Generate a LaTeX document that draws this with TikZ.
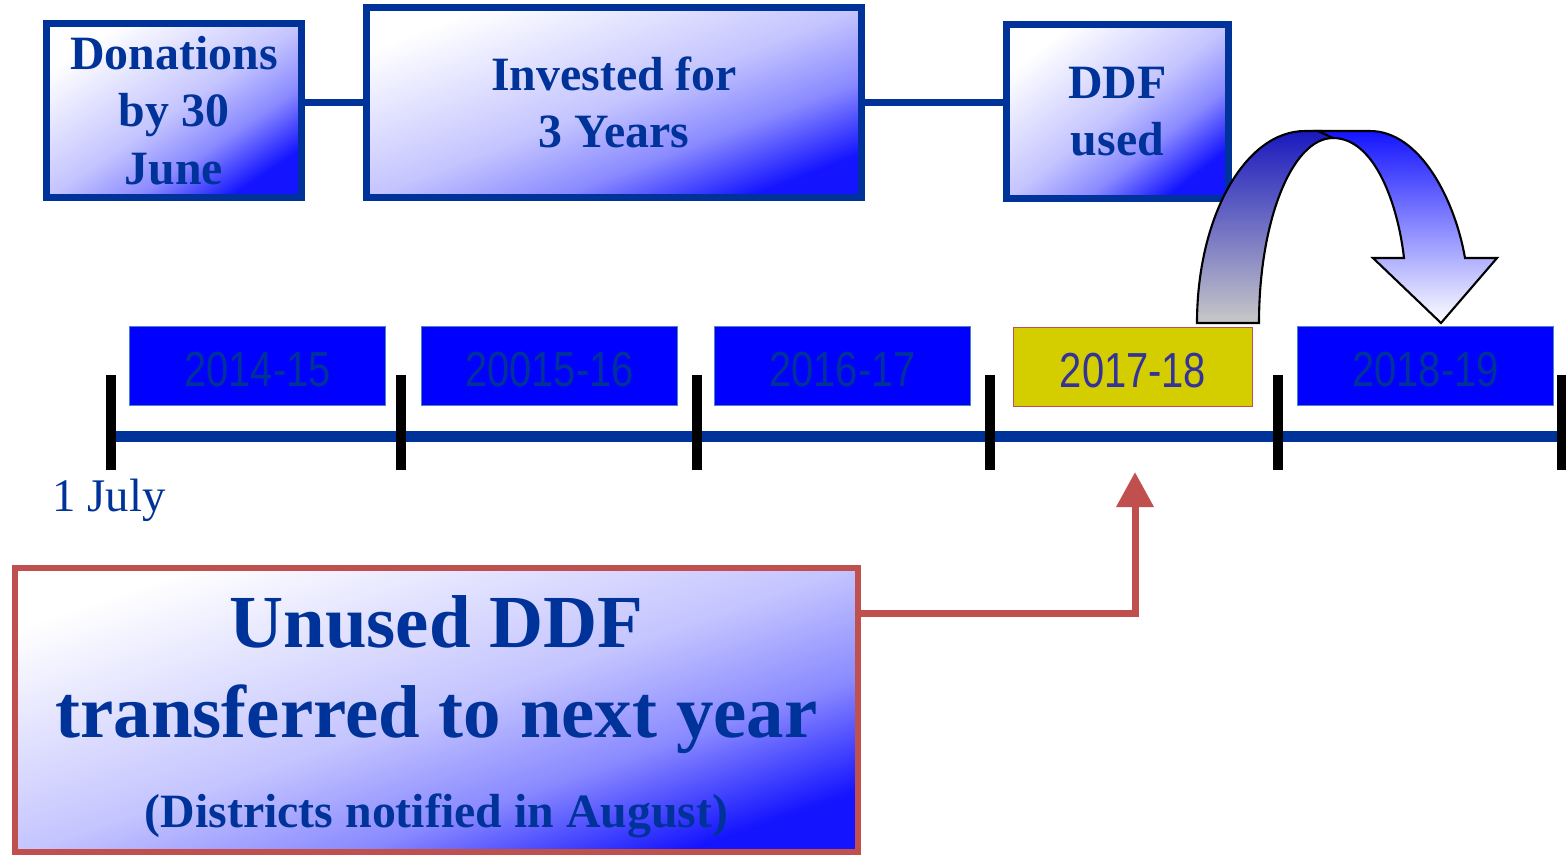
\documentclass[tikz,border=0pt]{standalone}
\usepackage{fontspec}
\setmainfont{Liberation Serif}
\newfontfamily\yearfont[FakeStretch=0.81]{Liberation Sans}
\usepackage{tikz}
\usetikzlibrary{arrows.meta}

\definecolor{ddfblue}{RGB}{0,51,153}
\definecolor{fillblue}{RGB}{20,20,255}
\definecolor{yearblue}{RGB}{0,0,255}
\definecolor{yearedge}{RGB}{79,129,189}
\definecolor{nowfill}{RGB}{212,206,0}
\definecolor{nowedge}{RGB}{192,80,77}
\definecolor{nowtext}{RGB}{51,51,153}
\definecolor{backblue}{RGB}{25,25,190}
\definecolor{backgray}{RGB}{200,200,200}

\pgfdeclareverticalshading{ddf_shade}{100bp}{color(0bp)=(fillblue); color(25bp)=(fillblue);
	color(37.5bp)=(fillblue!50); color(50bp)=(fillblue!25); color(75bp)=(white); color(100bp)=(white)}

\begin{document}
\begin{tikzpicture}[x=0.01cm, y=-0.01cm,
		box_style/.style={draw=ddfblue, line width=0.07cm, shade, shading=ddf_shade,
			text=ddfblue, font=\fontsize{13.6}{16.4}\selectfont\bfseries, align=center, inner sep=0pt},
		year_style/.style={draw=yearedge, line width=0.4pt, fill=yearblue, text=ddfblue, font=\yearfont\fontsize{14}{16}\selectfont,
			minimum width=2.56cm, minimum height=0.79cm, inner sep=0pt, text height=11.7pt, text depth=0pt},
		now_style/.style={year_style, draw=nowedge, fill=nowfill, text=nowtext, minimum width=2.39cm},
		note_style/.style={draw=nowedge, line width=0.06cm, shade, shading=ddf_shade,
			text=ddfblue, font=\fontsize{21.3}{25.6}\selectfont\bfseries, align=center, inner sep=0pt},
		edge_style/.style={draw=ddfblue, line width=0.07cm},
		red_style/.style={draw=nowedge, line width=0.07cm, -{Triangle[length=0.35cm,width=0.36cm]}},
		line_style/.style={draw=ddfblue, line width=0.11cm},
		tick_style/.style={draw=black, line width=0.1cm}]
		
		\useasboundingbox (0,0) rectangle (1566,856);
		
		% top boxes
		\node[box_style, shading angle=34, minimum width=2.55cm, minimum height=1.74cm] (don) at (174,110.5) {Donations\\by 30\\June};
		\node[box_style, shading angle=21, minimum width=4.95cm, minimum height=1.90cm] (inv) at (614,102.5) {Invested for\\3 Years};
		\node[box_style, shading angle=38, minimum width=2.22cm, minimum height=1.74cm] (used) at (1117.5,111.5) {DDF\\used};
		
		\draw[edge_style] (inv.west) -- (inv.west -| don.east);
		\draw[edge_style] (inv.east) -- (inv.east -| used.west);
		
		% years
		\node[year_style] (y1415) at (257.5,366) {2014-15};
		\node[year_style] (y1516) at (549.5,366) {20015-16};
		\node[year_style] (y1617) at (842.5,366) {2016-17};
		\node[now_style]  (y1718) at (1133,367) {2017-18};
		\node[year_style] (y1819) at (1425.5,366) {2018-19};
		
		% timeline
		\coordinate (start) at (111,436);
		\coordinate (stop) at (1566,436);
		\draw[line_style] (start) -- (stop);
		\foreach \x in {111,401,697,990,1278,1562}
			\draw[tick_style] (\x,375) -- (\x,470);
		
		\node[anchor=base west, inner sep=0pt, text=ddfblue, font=\fontsize{13.3}{16}\selectfont] (july) at (52,511) {1 July};
		
		% curved arrow
		\draw[black, line width=0.6pt, top color=backblue, bottom color=backgray]
			(1197,323) .. controls (1197,217) and (1245,131) .. (1305,131) -- (1322,131) -- (1333,138)
			.. controls (1292,138) and (1259,221) .. (1259,323) -- cycle;
		\draw[black, line width=0.6pt, top color=fillblue, bottom color=white]
			(1318,131) -- (1370,131) .. controls (1420,131) and (1455,200) .. (1465,258)
			-- (1497,258) -- (1441,323) -- (1373,258) -- (1404,258)
			.. controls (1398,205) and (1375,138) .. (1333,138) -- cycle;
		
		% note
		\node[note_style, shading angle=19, minimum width=8.43cm, minimum height=2.84cm] (unused) at (436.5,710)
			{\rule{0pt}{18.4pt}Unused DDF\\transferred to next year\\\fontsize{13.6}{25.6}\selectfont(Districts notified in August)};
		
		\coordinate (tip) at (1135,472);
		\coordinate (bend) at (1135,613);
		\draw[red_style] (bend -| unused.east) -- (bend) -- (tip);
		
\end{tikzpicture}
\end{document}
